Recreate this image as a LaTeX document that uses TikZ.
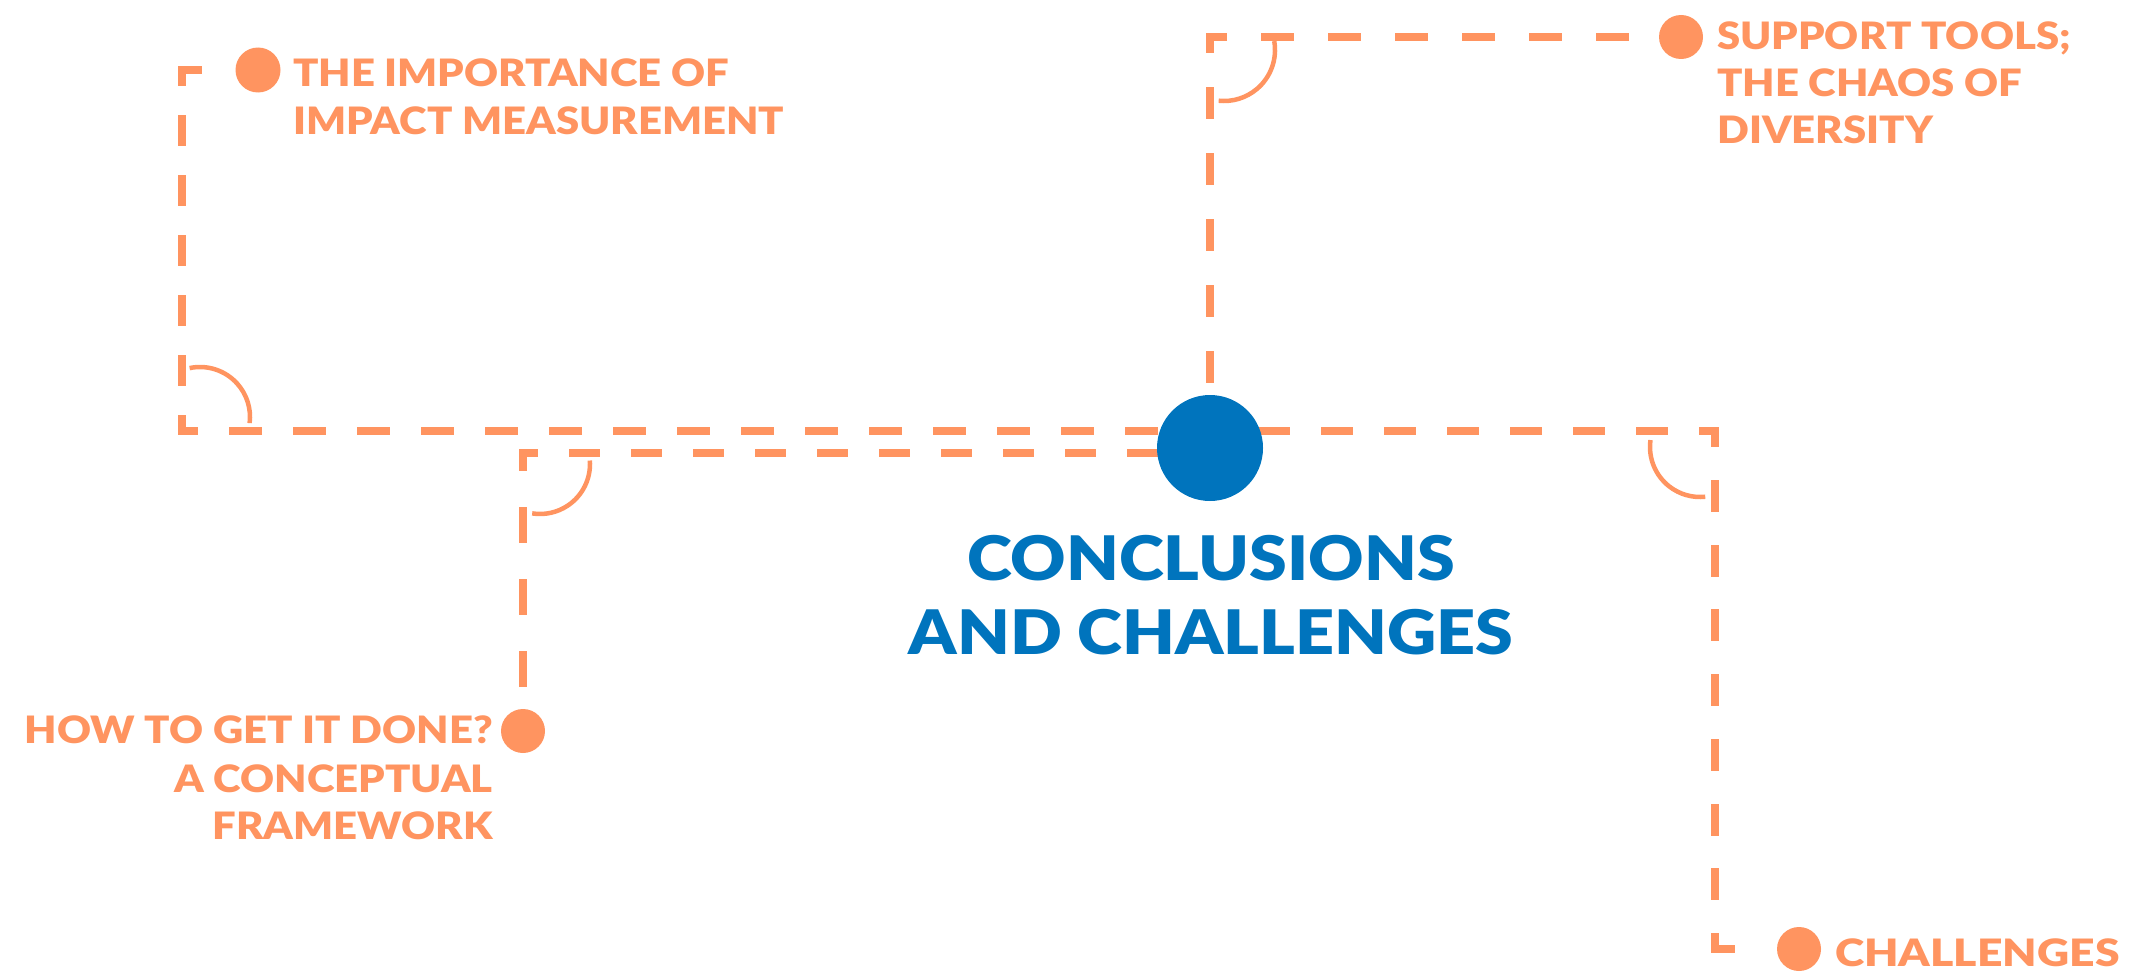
\documentclass[tikz,border=0pt]{standalone}
\usepackage{fontspec}
\newfontfamily\labfont{Lato Black}[FakeStretch=1.11]
\newfontfamily\widelabfont{Lato Black}[FakeStretch=1.18]
\definecolor{peach}{RGB}{255,148,96}
\definecolor{deepblue}{RGB}{0,116,189}
\pgfdeclarelayer{links}
\pgfsetlayers{links,main}
\begin{document}
\begin{tikzpicture}[x=1pt,y=-1pt,
  pdot/.style={circle,fill=peach,minimum size=44pt,inner sep=0pt},
  hub/.style={circle,fill=deepblue,minimum size=106pt,inner sep=0pt},
  link/.style={draw=peach,line width=8.5pt,line cap=rect},
  angmark/.style={draw=peach,line width=4.5pt},
  lbl/.style={text=peach,inner sep=0pt,font=\labfont\fontsize{37.7}{47}\selectfont},
  ttl/.style={text=deepblue,inner sep=0pt,font=\labfont\fontsize{61.4}{74}\selectfont}]
\useasboundingbox (0,0) rectangle (2135,974);

% corners of the dashed routes
\coordinate (k1) at (182,70);
\coordinate (k2) at (182,431);
\coordinate (k3) at (1210,37);
\coordinate (k4) at (523,453);
\coordinate (k5) at (1715,431);
\coordinate (k6) at (1715,949);

% end points
\node[pdot,minimum size=45pt] (d1) at (258,70) {};
\node[pdot] (d2) at (1681,37) {};
\node[pdot] (d3) at (523,731) {};
\node[pdot] (d4) at (1799,949) {};
\node[hub] (c) at (1210,448) {};

% dashed routes, each leg starting with a half dash at its corner
\begin{pgfonlayer}{links}
\draw[link,dash pattern=on 23.5pt off 45pt,dash phase=7.75pt] (k1) -- (d1);
\draw[link,dash pattern=on 22.5pt off 37.5pt,dash phase=10.75pt] (k1) -- (k2);
\draw[link,dash pattern=on 24.5pt off 39.5pt,dash phase=12.75pt] (k2) -- (k2 -| c);
\draw[link,dash pattern=on 23.5pt off 39.5pt,dash phase=11.75pt] (k5) -- (k5 -| c);
\draw[link,dash pattern=on 23.5pt off 41.25pt,dash phase=11.75pt] (k5) -- (k6);
\draw[link,dash pattern=on 23.5pt off 60pt,dash phase=7.75pt] (k6) -- (d4);
\draw[link,dash pattern=on 23.5pt off 42.5pt,dash phase=11.75pt] (k3) -- (c);
\draw[link,dash pattern=on 25pt off 42pt,dash phase=12.25pt] (k3) -- (d2);
\draw[link,dash pattern=on 22.5pt off 39.5pt,dash phase=11.75pt] (k4) -- (k4 -| c);
\draw[link,dash pattern=on 27.5pt off 44.5pt,dash phase=13.75pt] (k4) -- (d3);
\end{pgfonlayer}

% corner arcs
\draw[angmark] (200,417) ++(258:50) arc[start angle=258,end angle=367,radius=50];
\draw[angmark] (1224,50) ++(-10:51) arc[start angle=-10,end angle=96,radius=51];
\draw[angmark] (540,464) ++(-4:50) arc[start angle=-4,end angle=99,radius=50];
\draw[angmark] (1700,447) ++(188:50) arc[start angle=188,end angle=84,radius=50];

% labels
\node[lbl,anchor=base west] (t1a) at (293,86) {THE IMPORTANCE OF};
\node[lbl,anchor=base west] (t1b) at (293,134) {IMPACT MEASUREMENT};
\node[lbl,anchor=base west] (t2a) at (1717,49) {SUPPORT TOOLS;};
\node[lbl,anchor=base west] (t2b) at (1717,96) {THE CHAOS OF};
\node[lbl,anchor=base west] (t2c) at (1717,143) {DIVERSITY};
\node[lbl,anchor=base east] (t3a) at (493,743) {HOW TO GET IT DONE?};
\node[lbl,anchor=base east] (t3b) at (493,792) {A CONCEPTUAL};
\node[lbl,anchor=base east] (t3c) at (493,839) {FRAMEWORK};
\node[lbl,anchor=base west,font=\widelabfont\fontsize{37.7}{47}\selectfont] (t4) at (1835,966) {CHALLENGES};
\node[ttl,anchor=base] (tc1) at (1211,580) {CONCLUSIONS};
\node[ttl,anchor=base] (tc2) at (1211,654) {AND CHALLENGES};
\end{tikzpicture}
\end{document}
